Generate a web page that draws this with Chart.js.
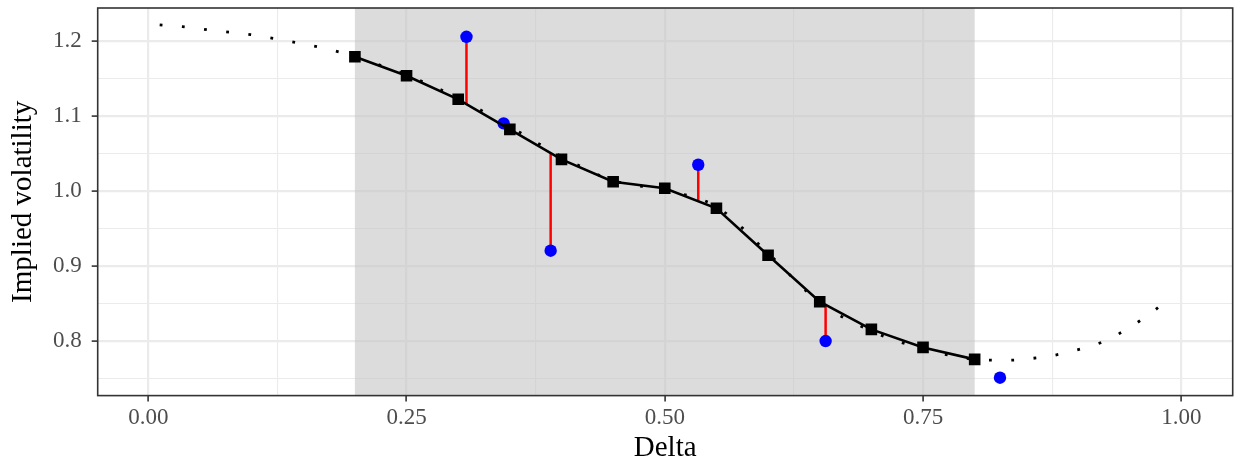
<!DOCTYPE html>
<html>
<head>
<meta charset="utf-8">
<script src="https://cdn.jsdelivr.net/npm/chart.js@4"></script>
<style>
  html, body { margin: 0; padding: 0; background: #ffffff; }
  #wrap { width: 1236px; height: 465px; position: relative; }
</style>
</head>
<body>
<div id="wrap"><canvas id="c"></canvas></div>
<script>
// ---- data ----
const xMajorTicks = [0, 0.25, 0.5, 0.75, 1.0];
const xMinorTicks = [0.125, 0.375, 0.625, 0.875];
const yMajorTicks = [0.8, 0.9, 1.0, 1.1, 1.2];
const yMinorTicks = [0.75, 0.85, 0.95, 1.05, 1.15];

// dotted smooth curve
const curveX = [0.011, 0.033, 0.066, 0.099, 0.121, 0.142, 0.165, 0.186, 0.200, 0.250, 0.300, 0.350, 0.400, 0.450, 0.500, 0.550, 0.600, 0.650, 0.700, 0.750, 0.800, 0.811, 0.833, 0.855, 0.876, 0.898, 0.919, 0.939, 0.958, 0.976, 0.984];
const curveY = [1.222, 1.2195, 1.214, 1.209, 1.204, 1.1987, 1.1924, 1.1853, 1.1794, 1.155, 1.124, 1.086, 1.046, 1.014, 1.001, 0.979, 0.917, 0.851, 0.813, 0.789, 0.775, 0.7742, 0.774, 0.7763, 0.7803, 0.7874, 0.7958, 0.8088, 0.8248, 0.8426, 0.853];

// fitted grid (squares + solid line)
const fitX = [0.20, 0.25, 0.30, 0.35, 0.40, 0.45, 0.50, 0.55, 0.60, 0.65, 0.70, 0.75, 0.80];
const fitY = [1.1794, 1.154, 1.1225, 1.0824, 1.0423, 1.0124, 1.0036, 0.9769, 0.9141, 0.8521, 0.8152, 0.7911, 0.7751];

// observed quotes (blue) and fitted value at the same delta (end of red segment)
const obsX = [0.308, 0.344, 0.3895, 0.5324, 0.6557, 0.8245];
const obsY = [1.206, 1.0904, 0.9203, 1.0351, 0.7996, 0.7506];
const obsFitY = [1.1161, 1.0872, 1.0507, 0.9863, 0.848, null];

// shaded delta window
const bandX = [0.2, 0.8];

// ---- build datasets ----
const curveData = curveX.map((x, i) => ({x, y: curveY[i]}));
const fitData = fitX.map((x, i) => ({x, y: fitY[i]}));
const obsData = obsX.map((x, i) => ({x, y: obsY[i]}));
const segData = [];
obsX.forEach((x, i) => {
  if (obsFitY[i] === null) return;
  segData.push({x, y: obsY[i]}, {x, y: obsFitY[i]}, {x, y: null});
});

const isMajor = (v, arr) => arr.some(m => Math.abs(m - v) < 1e-9);
const serif = "'Liberation Serif', 'Times New Roman', serif";

const shadePlugin = {
  id: 'shade',
  beforeDatasetsDraw(chart) {
    const {ctx, chartArea, scales} = chart;
    const x0 = scales.x.getPixelForValue(bandX[0]);
    const x1 = scales.x.getPixelForValue(bandX[1]);
    ctx.save();
    ctx.fillStyle = 'rgba(197,197,197,0.6)';
    ctx.fillRect(x0, chartArea.top, x1 - x0, chartArea.bottom - chartArea.top);
    ctx.restore();
  },
  afterDraw(chart) {
    const {ctx, chartArea} = chart;
    ctx.save();
    ctx.strokeStyle = '#333333';
    ctx.lineWidth = 1.6;
    ctx.strokeRect(chartArea.left, chartArea.top, chartArea.right - chartArea.left, chartArea.bottom - chartArea.top);
    ctx.restore();
  }
};

new Chart(document.getElementById('c'), {
  type: 'scatter',
  data: {
    datasets: [
      {
        label: 'fit', data: fitData, showLine: true, order: 0,
        borderColor: '#000000', borderWidth: 2.6, tension: 0,
        pointStyle: 'rect', pointRadius: 8.2, pointBackgroundColor: '#000000',
        pointBorderWidth: 0
      },
      {
        label: 'obs', data: obsData, showLine: false, order: 1,
        pointStyle: 'circle', pointRadius: 6.2, pointBackgroundColor: '#0000ff',
        pointBorderWidth: 0
      },
      {
        label: 'resid', data: segData, showLine: true, spanGaps: false, order: 2,
        borderColor: '#ff0000', borderWidth: 2.5, pointRadius: 0, borderCapStyle: 'butt'
      },
      {
        label: 'curve', data: curveData, showLine: true, order: 3,
        borderColor: '#000000', borderWidth: 2.8, borderDash: [2.8, 19.5],
        borderCapStyle: 'butt', cubicInterpolationMode: 'monotone', pointRadius: 0
      }
    ]
  },
  options: {
    responsive: true,
    maintainAspectRatio: false,
    animation: false,
    events: [],
    layout: { autoPadding: false, padding: { left: 0, top: 8, right: 3.3, bottom: 0 } },
    plugins: { legend: { display: false }, tooltip: { enabled: false } },
    scales: {
      x: {
        type: 'linear', min: -0.049, max: 1.0498,
        afterBuildTicks: (s) => { s.ticks = xMajorTicks.concat(xMinorTicks).sort((a, b) => a - b).map(v => ({value: v})); },
        afterFit: (s) => { s.height = 69.4; s.paddingLeft = 0; s.paddingRight = 0; },
        border: { display: false },
        grid: {
          color: '#ebebeb',
          lineWidth: (c) => isMajor(c.tick.value, xMajorTicks) ? 2.2 : 1.1,
          tickColor: (c) => isMajor(c.tick.value, xMajorTicks) ? '#333333' : 'rgba(0,0,0,0)',
          tickWidth: 1.6,
          tickLength: 6,
          drawTicks: true
        },
        ticks: {
          autoSkip: false, maxRotation: 0, padding: 3,
          color: '#4d4d4d',
          font: { family: serif, size: 23 },
          callback: (v) => isMajor(v, xMajorTicks) ? Number(v).toFixed(2) : ''
        },
        title: {
          display: true, text: 'Delta', color: '#000000',
          font: { family: serif, size: 29, lineHeight: 1.0 },
          padding: { top: 0, bottom: 2 }
        }
      },
      y: {
        type: 'linear', min: 0.7267, max: 1.2445,
        afterBuildTicks: (s) => { s.ticks = yMajorTicks.concat(yMinorTicks).sort((a, b) => a - b).map(v => ({value: v})); },
        afterFit: (s) => { s.width = 97.7; s.paddingTop = 0; s.paddingBottom = 0; },
        border: { display: false },
        grid: {
          color: '#ebebeb',
          lineWidth: (c) => isMajor(c.tick.value, yMajorTicks) ? 2.2 : 1.1,
          tickColor: (c) => isMajor(c.tick.value, yMajorTicks) ? '#333333' : 'rgba(0,0,0,0)',
          tickWidth: 1.6,
          tickLength: 6,
          drawTicks: true
        },
        ticks: {
          autoSkip: false, padding: 10,
          color: '#4d4d4d',
          font: { family: serif, size: 23 },
          callback: (v) => isMajor(v, yMajorTicks) ? Number(v).toFixed(1) : ''
        },
        title: {
          display: true, text: 'Implied volatility', color: '#000000',
          font: { family: serif, size: 29, lineHeight: 1.0 },
          padding: { top: 9.2, bottom: 0 }
        }
      }
    }
  },
  plugins: [shadePlugin]
});
</script>
</body>
</html>
